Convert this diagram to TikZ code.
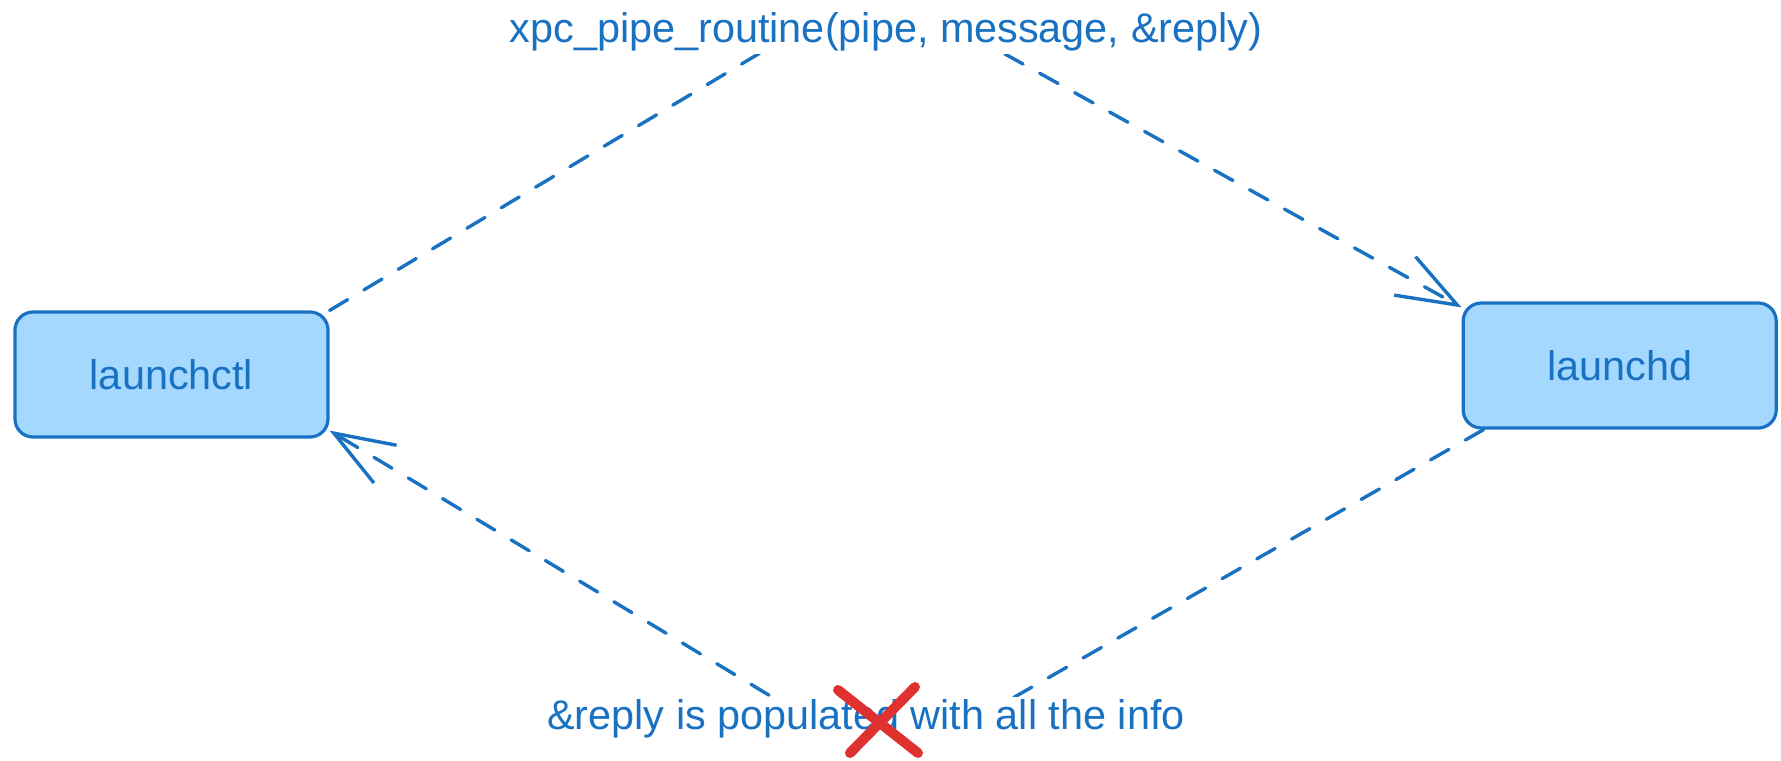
\documentclass[tikz,border=0pt]{standalone}
\usepackage{fontspec}
\setmainfont{Liberation Sans}
\usetikzlibrary{arrows.meta,positioning}
\definecolor{boxfill}{HTML}{A5D8FF}
\definecolor{ink}{HTML}{1971C2}
\definecolor{crossred}{HTML}{E03131}
\tikzset{
  >={Straight Barb[length=30pt,width=22pt]},
  every node/.style={font=\fontsize{20.7}{25}\selectfont,text=ink},
  procbox/.style={draw=ink,line width=1.6pt,rounded corners=9pt,fill=boxfill,minimum width=156.5pt,minimum height=62.5pt,align=center},
  flow/.style={->,draw=ink,line width=1.7pt,line cap=round,dash pattern=on 10.5pt off 9.5pt,rounded corners=60pt},
  msg/.style={fill=white,inner xsep=3pt,inner ysep=1.5pt},
  strike/.style={draw=crossred,line width=5pt,line cap=round},
}

\begin{document}
\begin{tikzpicture}[x=0.5pt,y=-0.5pt]
\useasboundingbox (0,0) rectangle (1781,760);

% the two processes
\node[procbox] (launchctl) at (171.5,374.5) {launchctl};
\node[procbox,right=566pt of launchctl,yshift=4.5pt] (launchd) {launchd};

% call and reply
\coordinate (callbend) at (877,-17);
\coordinate (replybend) at (890,768);
\draw[flow] (launchctl.north east) -- (callbend) -- ([yshift=-3pt]launchd.north west);
\draw[flow] ([xshift=11pt]launchd.south west) -- (replybend) -- ([yshift=4pt]launchctl.south east);

\node[msg] (call) at (886,32) {xpc\_pipe\_routine(pipe, message, \&reply)};
\node[msg] (reply) at (866,719) {\&reply is populated with all the info};

% struck out
\draw[strike] (838,690) -- (918,753);
\draw[strike] (915,687) -- (850,753);

\end{tikzpicture}
\end{document}
